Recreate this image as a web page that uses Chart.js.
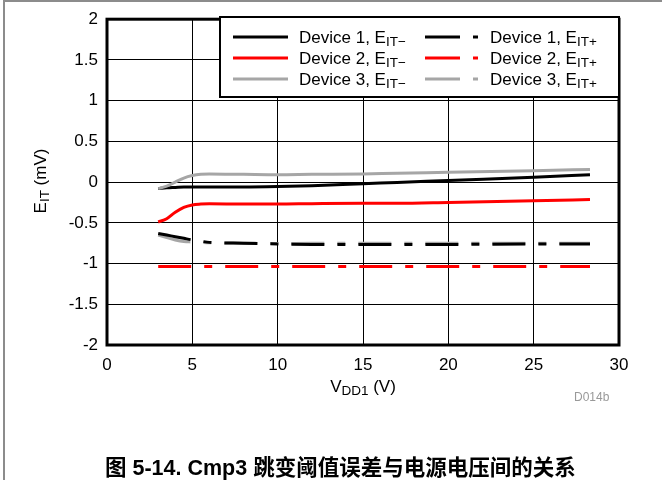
<!DOCTYPE html>
<html>
<head>
<meta charset="utf-8">
<script src="https://cdn.jsdelivr.net/npm/chart.js@4"></script>
<style>
  body { margin: 0; background: #fff; }
  #wrap { position: relative; width: 662px; height: 480px; overflow: hidden; }
  #frameTop { position: absolute; left: 3px; top: 0; width: 659px; height: 2px; background: #8c8c8c; }
  #frameLeft { position: absolute; left: 3px; top: 0; width: 2px; height: 480px; background: #8c8c8c; }
  #caption { position: absolute; left: 105px; top: 450px; font: bold 21.5px "Liberation Sans", Arial, "Noto Sans CJK SC", sans-serif; color: #000; white-space: nowrap; }
  #code { position: absolute; left: 574px; top: 390px; font: 12px "Liberation Sans", Arial, sans-serif; color: #999; }
</style>
</head>
<body>
<div id="wrap">
  <canvas id="chart" width="662" height="480"></canvas>
  <div id="frameTop"></div>
  <div id="frameLeft"></div>
  <div id="code">D014b</div>
  <div id="caption">图 5-14. Cmp3 跳变阈值误差与电源电压间的关系</div>
</div>
<script>
// supply voltage VDD1 (V)
const vdd = [3, 3.5, 4, 4.5, 5, 5.5, 6, 8, 10, 12, 15, 17, 20, 25, 28.3];

// EIT- curves (mV)
const dev1Neg = [-0.08, -0.07, -0.065, -0.06, -0.06, -0.06, -0.06, -0.06, -0.055, -0.045, -0.02, -0.005, 0.02, 0.06, 0.09];
const dev2Neg = [-0.49, -0.45, -0.37, -0.31, -0.28, -0.27, -0.265, -0.27, -0.27, -0.265, -0.26, -0.26, -0.25, -0.23, -0.215];
const dev3Neg = [-0.08, -0.05, 0.0, 0.05, 0.08, 0.095, 0.1, 0.095, 0.09, 0.095, 0.1, 0.11, 0.12, 0.14, 0.155];

// EIT+ curves (mV)
const dev1Pos = [-0.63, -0.65, -0.67, -0.69, -0.71, -0.725, -0.74, -0.75, -0.76, -0.765, -0.765, -0.765, -0.765, -0.76, -0.76];
const dev2Pos = [-1.035, -1.035, -1.035, -1.035, -1.035, -1.035, -1.035, -1.035, -1.035, -1.035, -1.035, -1.035, -1.035, -1.035, -1.035];
const dev3Pos = [-0.65, -0.68, -0.71, -0.73, -0.735, -0.74, -0.745, -0.75, -0.755, -0.75, -0.75, -0.75, -0.75, -0.75, -0.75];

const xTickLabels = ["0", "5", "10", "15", "20", "25", "30"];
const yTickLabels = ["-2", "-1.5", "-1", "-0.5", "0", "0.5", "1", "1.5", "2"];

const legendNames = ["Device 1, E", "Device 2, E", "Device 3, E"];
const colors = ["#000000", "#ff0000", "#a6a6a6"];
const dashPattern = [33, 13, 8, 13];

function toPoints(ys) {
  return ys.map((y, i) => ({x: vdd[i], y: y}));
}

function mkSet(label, ys, color, dashed) {
  return {
    label: label,
    data: toPoints(ys),
    borderColor: color,
    backgroundColor: color,
    borderWidth: 3,
    borderDash: dashed ? dashPattern : [],
    pointRadius: 0,
    cubicInterpolationMode: "monotone",
    fill: false
  };
}

const FONT = '"Liberation Sans", Arial, sans-serif';

// text with a subscript part: [main, sub, tail]
function subText(ctx, x, y, parts) {
  ctx.font = "17px " + FONT;
  ctx.fillText(parts[0], x, y);
  let w = ctx.measureText(parts[0]).width;
  ctx.font = "13.5px " + FONT;
  ctx.fillText(parts[1], x + w, y + 3);
  w += ctx.measureText(parts[1]).width;
  if (parts[2]) {
    ctx.font = "17px " + FONT;
    ctx.fillText(parts[2], x + w, y);
  }
}

function subWidth(ctx, parts) {
  ctx.font = "17px " + FONT;
  let w = ctx.measureText(parts[0]).width + ctx.measureText(parts[2] || "").width;
  ctx.font = "13.5px " + FONT;
  return w + ctx.measureText(parts[1]).width;
}

// draws plot frame, axis titles and the boxed legend
const decorPlugin = {
  id: "decor",
  afterDatasetsDraw(chart) {
    const ctx = chart.ctx;
    const a = chart.chartArea;
    ctx.save();
    ctx.strokeStyle = "#000";
    ctx.lineWidth = 3;
    ctx.strokeRect(a.left, a.top, a.right - a.left, a.bottom - a.top);

    ctx.fillStyle = "#000";
    ctx.textBaseline = "alphabetic";
    ctx.textAlign = "left";

    // x axis title
    const xt = ["V", "DD1", " (V)"];
    subText(ctx, 363 - subWidth(ctx, xt) / 2, 392, xt);

    // y axis title
    const yt = ["E", "IT", " (mV)"];
    ctx.save();
    ctx.translate(46, 181);
    ctx.rotate(-Math.PI / 2);
    subText(ctx, -subWidth(ctx, yt) / 2, 0, yt);
    ctx.restore();

    // legend box
    const lx = 220, ly = 17, lw = 399, lh = 80;
    ctx.fillStyle = "#fff";
    ctx.fillRect(lx, ly, lw, lh);
    ctx.lineWidth = 2;
    ctx.strokeStyle = "#000";
    ctx.strokeRect(lx, ly, lw, lh);
    const rows = [37, 58, 79];
    for (let i = 0; i < 3; i++) {
      const ry = rows[i];
      ctx.strokeStyle = colors[i];
      ctx.lineWidth = 3;
      ctx.setLineDash([]);
      ctx.beginPath(); ctx.moveTo(233, ry); ctx.lineTo(288, ry); ctx.stroke();
      ctx.setLineDash([35, 13, 5, 100]);
      ctx.beginPath(); ctx.moveTo(425, ry); ctx.lineTo(478, ry); ctx.stroke();
      ctx.setLineDash([]);
      ctx.fillStyle = "#000";
      subText(ctx, 299, ry + 6, [legendNames[i], "IT\u2212"]);
      subText(ctx, 490, ry + 6, [legendNames[i], "IT+"]);
    }
    ctx.restore();
  }
};

new Chart(document.getElementById("chart").getContext("2d"), {
  type: "line",
  data: {
    datasets: [
      mkSet("Device 1, EIT+", dev1Pos, colors[0], true),
      mkSet("Device 3, EIT+", dev3Pos, colors[2], true),
      mkSet("Device 2, EIT+", dev2Pos, colors[1], true),
      mkSet("Device 3, EIT-", dev3Neg, colors[2], false),
      mkSet("Device 1, EIT-", dev1Neg, colors[0], false),
      mkSet("Device 2, EIT-", dev2Neg, colors[1], false)
    ]
  },
  options: {
    responsive: false,
    animation: false,
    layout: {padding: {left: 0, top: 18, right: 43, bottom: 0}},
    plugins: {legend: {display: false}, tooltip: {enabled: false}},
    scales: {
      x: {
        type: "linear",
        min: 0, max: 30,
        afterFit: (s) => { s.height = 135; },
        ticks: {
          stepSize: 5,
          padding: 10,
          color: "#000",
          font: {size: 17, family: FONT},
          callback: (v) => xTickLabels[Math.round(v / 5)]
        },
        grid: {color: "#000", lineWidth: 1, drawTicks: false},
        border: {display: false}
      },
      y: {
        min: -2, max: 2,
        afterFit: (s) => { s.width = 107; },
        ticks: {
          stepSize: 0.5,
          padding: 9,
          color: "#000",
          font: {size: 17, family: FONT},
          callback: (v) => yTickLabels[Math.round((v + 2) / 0.5)]
        },
        grid: {color: "#000", lineWidth: 1, drawTicks: false},
        border: {display: false}
      }
    }
  },
  plugins: [decorPlugin]
});
</script>
</body>
</html>
